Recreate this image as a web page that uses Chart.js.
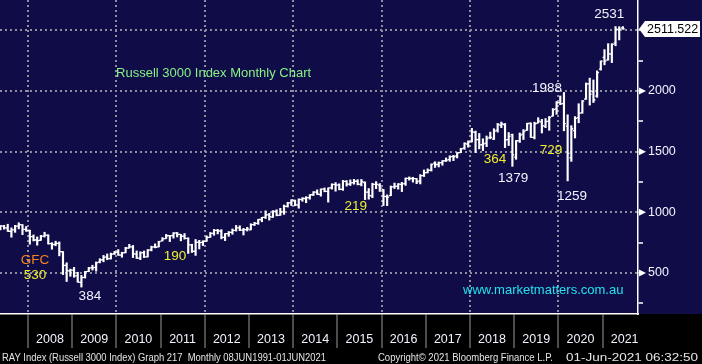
<!DOCTYPE html>
<html>
<head>
<meta charset="utf-8">
<script src="https://cdn.jsdelivr.net/npm/chart.js@4.4.1/dist/chart.umd.min.js"></script>
<style>
  html, body { margin: 0; padding: 0; background: #000; }
  #wrap { width: 702px; height: 364px; }
</style>
</head>
<body>
<div id="wrap"><canvas id="chart" width="702" height="364"></canvas></div>
<script>
// RAY Index monthly bars, first bar May 2007, last bar Jun 2021
const firstMonth = { year: 2007, month: 5 };

const opens = [
  860, 887, 872, 844, 855, 886, 897, 859,
  851, 800, 772, 770, 804, 812, 742, 735, 744, 675, 562, 515,
  524, 477, 422, 464, 513, 545, 546, 589, 609, 630, 618, 659,
  673, 647, 667, 706, 716, 656, 622, 668, 633, 690, 715, 715,
  765, 784, 808, 809, 830, 818, 804, 786, 731, 679, 754, 753,
  761, 794, 826, 852, 846, 793, 824, 834, 851, 872, 854, 857,
  856, 899, 909, 941, 959, 979, 961, 1009, 977, 1004, 1050, 1078,
  1098, 1060, 1105, 1114, 1121, 1145, 1167, 1148, 1192, 1173, 1201, 1229,
  1227, 1190, 1255, 1232, 1244, 1256, 1232, 1246, 1166, 1136, 1231, 1224,
  1188, 1129, 1137, 1209, 1216, 1231, 1237, 1280, 1279, 1277, 1260, 1303,
  1328, 1348, 1405, 1394, 1409, 1425, 1434, 1461, 1465, 1492, 1529, 1561,
  1580, 1659, 1599, 1557, 1570, 1617, 1604, 1676, 1717, 1724, 1600, 1640,
  1455, 1589, 1645, 1675, 1736, 1617, 1736, 1746, 1708, 1751, 1793, 1852,
  1904, 1896, 1710, 1449, 1673, 1780, 1820, 1934, 2059, 1994, 1958, 2180,
  2277, 2257, 2305, 2395, 2503, 2520
];
const highs = [
  890, 893, 902, 872, 893, 914, 899, 883,
  853, 814, 797, 810, 836, 815, 750, 762, 756, 677, 584, 532,
  546, 506, 481, 513, 547, 564, 591, 618, 645, 657, 664, 678,
  693, 671, 712, 736, 727, 682, 675, 681, 693, 721, 740, 762,
  792, 818, 810, 833, 834, 818, 825, 790, 737, 776, 769, 766,
  806, 834, 859, 860, 857, 825, 842, 863, 892, 889, 868, 876,
  906, 918, 942, 959, 1012, 992, 1014, 1021, 1033, 1060, 1083, 1104,
  1101, 1111, 1121, 1129, 1145, 1171, 1185, 1193, 1201, 1201, 1235, 1245,
  1235, 1263, 1262, 1267, 1272, 1269, 1271, 1251, 1196, 1240, 1253, 1237,
  1188, 1144, 1217, 1241, 1237, 1247, 1283, 1292, 1289, 1278, 1311, 1349,
  1358, 1399, 1417, 1415, 1427, 1448, 1466, 1470, 1491, 1528, 1573, 1589,
  1692, 1670, 1650, 1606, 1629, 1661, 1689, 1733, 1744, 1732, 1658, 1645,
  1592, 1654, 1682, 1734, 1737, 1743, 1780, 1766, 1773, 1790, 1855, 1913,
  1959, 1988, 1804, 1714, 1789, 1895, 1922, 2066, 2106, 2091, 2166, 2248,
  2341, 2390, 2390, 2531, 2530, 2531
];
const lows = [
  856, 861, 843, 795, 835, 864, 816, 843,
  737, 764, 729, 769, 796, 738, 696, 724, 641, 487, 430, 473,
  465, 424, 384, 458, 510, 524, 515, 583, 592, 609, 615, 652,
  646, 630, 667, 705, 627, 620, 610, 627, 632, 682, 707, 715,
  764, 784, 759, 787, 797, 765, 779, 661, 669, 645, 698, 726,
  761, 794, 811, 822, 781, 767, 802, 819, 845, 849, 813, 846,
  856, 891, 901, 922, 949, 936, 958, 971, 975, 983, 1043, 1056,
  1054, 1034, 1091, 1079, 1108, 1139, 1148, 1133, 1169, 1084, 1191, 1174,
  1185, 1181, 1216, 1221, 1232, 1226, 1218, 1105, 1108, 1121, 1195, 1172,
  1056, 1055, 1137, 1196, 1191, 1171, 1222, 1265, 1249, 1236, 1234, 1295,
  1325, 1340, 1370, 1374, 1388, 1419, 1420, 1426, 1448, 1492, 1519, 1537,
  1580, 1492, 1523, 1509, 1541, 1606, 1600, 1661, 1698, 1533, 1550, 1379,
  1437, 1576, 1600, 1675, 1617, 1605, 1736, 1654, 1698, 1676, 1793, 1808,
  1887, 1672, 1259, 1420, 1613, 1738, 1817, 1931, 1884, 1905, 1948, 2172,
  2216, 2254, 2234, 2373, 2421, 2509
];
const closes = [
  888, 872, 844, 855, 886, 898, 859, 851,
  800, 772, 767, 804, 812, 742, 735, 744, 676, 562, 520, 524,
  477, 425, 461, 511, 540, 542, 585, 607, 631, 618, 654, 669,
  648, 666, 705, 716, 657, 622, 665, 633, 688, 713, 712, 759,
  782, 807, 806, 829, 818, 803, 786, 731, 679, 752, 751, 760,
  794, 826, 852, 846, 793, 824, 834, 851, 872, 854, 857, 863,
  899, 909, 941, 959, 979, 964, 1007, 975, 1004, 1049, 1078, 1103,
  1061, 1106, 1114, 1121, 1145, 1166, 1149, 1192, 1173, 1201, 1230, 1225,
  1189, 1255, 1233, 1243, 1256, 1230, 1254, 1167, 1137, 1231, 1231, 1202,
  1131, 1126, 1209, 1214, 1233, 1234, 1280, 1279, 1277, 1252, 1302, 1326,
  1345, 1395, 1394, 1407, 1423, 1430, 1457, 1458, 1491, 1524, 1568, 1578,
  1663, 1599, 1556, 1565, 1607, 1617, 1670, 1724, 1728, 1597, 1626, 1473,
  1590, 1637, 1666, 1732, 1618, 1730, 1752, 1715, 1747, 1783, 1847, 1903,
  1894, 1731, 1486, 1689, 1775, 1817, 1917, 2058, 1974, 1926, 2152, 2246,
  2247, 2306, 2384, 2509, 2510, 2511.5
];

const years = ['2008', '2009', '2010', '2011', '2012', '2013', '2014',
               '2015', '2016', '2017', '2018', '2019', '2020', '2021'];
const yTickValues = [250, 500, 750, 1000, 1250, 1500, 1750, 2000, 2250, 2500];
const yLabelValues = [500, 1000, 1500, 2000];
const lastPrice = '2511.522';

// text notes: x in months from Jan 2008, y in index points
const notes = [
  { text: 'GFC', x: 1.9, y: 607, color: '#f5841f' },
  { text: '530', x: 1.9, y: 484, color: '#eeee30' },
  { text: '384', x: 16.8, y: 310, color: '#f2f4ff' },
  { text: '190', x: 39.9, y: 640, color: '#eeee30' },
  { text: '219', x: 89.0, y: 1052, color: '#eeee30' },
  { text: '364', x: 126.8, y: 1440, color: '#eeee30' },
  { text: '1379', x: 131.7, y: 1283, color: '#f2f4ff' },
  { text: '729', x: 142.0, y: 1513, color: '#eeee30' },
  { text: '1988', x: 140.9, y: 2025, color: '#f2f4ff' },
  { text: '1259', x: 147.7, y: 1135, color: '#f2f4ff' },
  { text: '2531', x: 157.8, y: 2635, color: '#f2f4ff' }
];
const title = { text: 'Russell 3000 Index Monthly Chart', x: 23.9, y: 2148, color: '#86f286' };
const site = { text: 'www.marketmatters.com.au', x: 118.1, y: 360, color: '#22e2ee' };
// footer pieces: text, left edge, width in the reference
const footer = [
  { text: 'RAY Index (Russell 3000 Index) Graph 217  Monthly 08JUN1991-01JUN2021', left: 2, width: 324 },
  { text: 'Copyright\u00a9 2021 Bloomberg Finance L.P.', left: 378, width: 175 },
  { text: '01-Jun-2021 06:32:50', left: 566, width: 132 }
];

const NAVY = '#100c47';
const GRID = '#8e8e9c';
const FONT = '"Liberation Sans", Arial, sans-serif';

let monthPos = function (i) {
  return (firstMonth.year - 2008) * 12 + (firstMonth.month - 1) + i + 0.5;
};

let barData = highs.map(function (h, i) {
  return { x: monthPos(i), y: [lows[i], h] };
});

let background = {
  id: 'background',
  beforeDraw: function (chart) {
    let ctx = chart.ctx;
    ctx.save();
    ctx.fillStyle = '#000';
    ctx.fillRect(0, 0, chart.width, chart.height);
    ctx.fillStyle = NAVY;
    ctx.fillRect(0, 0, chart.width, chart.chartArea.bottom);
    ctx.restore();
  }
};

// open / close ticks on each bar
let ohlcTicks = {
  id: 'ohlcTicks',
  afterDatasetsDraw: function (chart) {
    let ctx = chart.ctx, xs = chart.scales.x, ys = chart.scales.y, a = chart.chartArea;
    ctx.save();
    ctx.beginPath();
    ctx.rect(a.left, a.top, a.right - a.left, a.bottom - a.top);
    ctx.clip();
    ctx.strokeStyle = '#ffffff';
    ctx.lineWidth = 1.3;
    ctx.beginPath();
    for (let i = 0; i < closes.length; i++) {
      let x = xs.getPixelForValue(monthPos(i));
      let yo = ys.getPixelForValue(opens[i]);
      let yc = ys.getPixelForValue(closes[i]);
      ctx.moveTo(x - 1.9, yo);
      ctx.lineTo(x, yo);
      ctx.moveTo(x, yc);
      ctx.lineTo(x + 1.9, yc);
    }
    ctx.stroke();
    ctx.restore();
  }
};

let overlays = {
  id: 'overlays',
  afterDraw: function (chart) {
    let ctx = chart.ctx, xs = chart.scales.x, ys = chart.scales.y, a = chart.chartArea;
    ctx.save();

    // arrow markers on the labelled y ticks
    ctx.fillStyle = '#ffffff';
    yLabelValues.forEach(function (v) {
      let y = ys.getPixelForValue(v);
      ctx.beginPath();
      ctx.moveTo(a.right + 1, y - 3.5);
      ctx.lineTo(a.right + 8, y);
      ctx.lineTo(a.right + 1, y + 3.5);
      ctx.closePath();
      ctx.fill();
    });

    // last price box
    let py = ys.getPixelForValue(closes[closes.length - 1]);
    ctx.fillStyle = '#ffffff';
    ctx.beginPath();
    ctx.moveTo(a.right + 1, py);
    ctx.lineTo(a.right + 7, py - 8);
    ctx.lineTo(700, py - 8);
    ctx.lineTo(700, py + 8);
    ctx.lineTo(a.right + 7, py + 8);
    ctx.closePath();
    ctx.fill();
    ctx.fillStyle = '#000000';
    ctx.font = '12.5px ' + FONT;
    ctx.textAlign = 'left';
    ctx.textBaseline = 'middle';
    ctx.fillText(lastPrice, a.right + 9, py + 1);

    // notes
    ctx.font = '13.5px ' + FONT;
    ctx.textAlign = 'center';
    notes.forEach(function (n) {
      ctx.fillStyle = n.color;
      ctx.fillText(n.text, xs.getPixelForValue(n.x), ys.getPixelForValue(n.y));
    });
    ctx.font = '13px ' + FONT;
    ctx.textAlign = 'left';
    ctx.fillStyle = title.color;
    ctx.fillText(title.text, xs.getPixelForValue(title.x), ys.getPixelForValue(title.y));
    ctx.fillStyle = site.color;
    ctx.fillText(site.text, xs.getPixelForValue(site.x), ys.getPixelForValue(site.y));

    // footer line, squeezed to the reference widths
    ctx.font = '10.5px ' + FONT;
    ctx.fillStyle = '#e4e4e4';
    ctx.textBaseline = 'alphabetic';
    footer.forEach(function (f) {
      let w = ctx.measureText(f.text).width;
      ctx.save();
      ctx.translate(f.left, 361);
      ctx.scale(f.width / w, 1);
      ctx.fillText(f.text, 0, 0);
      ctx.restore();
    });
    ctx.restore();
  }
};

let ctx = document.getElementById('chart').getContext('2d');
let chart = new Chart(ctx, {
  type: 'bar',
  data: {
    datasets: [{
      data: barData,
      backgroundColor: '#ffffff',
      borderWidth: 0,
      barThickness: 1.5,
      grouped: false
    }]
  },
  options: {
    responsive: false,
    animation: false,
    events: [],
    layout: { padding: 0 },
    plugins: {
      legend: { display: false },
      tooltip: { enabled: false }
    },
    scales: {
      x: {
        type: 'linear',
        position: 'bottom',
        offset: false,
        min: -7.6,
        max: 165.6,
        afterBuildTicks: function (scale) {
          scale.ticks = years.map(function (y, i) { return { value: i * 12 }; });
        },
        afterFit: function (scale) {
          scale.height = 50;
          scale.paddingLeft = 0;
          scale.paddingRight = 0;
        },
        grid: {
          offset: false,
          color: function (c) {
            return c.tick && c.tick.value % 24 === 0 ? GRID : 'rgba(0,0,0,0)';
          },
          lineWidth: 2,
          tickColor: '#9a9a9a',
          tickWidth: 1,
          tickLength: 34,
          tickBorderDash: []
        },
        border: { display: true, color: '#ffffff', width: 1.5, dash: [2, 3] },
        ticks: {
          autoSkip: false,
          maxRotation: 0,
          labelOffset: 22,
          padding: -16,
          color: '#f2f2ff',
          font: { family: FONT, size: 12.5 },
          callback: function (value) { return years[Math.round(value / 12)]; }
        }
      },
      y: {
        type: 'linear',
        position: 'right',
        min: 162,
        max: 2750,
        afterBuildTicks: function (scale) {
          scale.ticks = yTickValues.map(function (v) { return { value: v }; });
        },
        afterFit: function (scale) {
          scale.width = 64;
          scale.paddingTop = 0;
          scale.paddingBottom = 0;
        },
        grid: {
          color: function (c) {
            return c.tick && c.tick.value % 500 === 0 ? GRID : 'rgba(0,0,0,0)';
          },
          lineWidth: 2,
          tickColor: '#ffffff',
          tickWidth: 1.5,
          tickLength: 5,
          tickBorderDash: []
        },
        border: { display: true, color: '#ffffff', width: 1.5, dash: [2, 3] },
        ticks: {
          padding: 5,
          color: '#f2f4ff',
          font: { family: FONT, size: 12.5 },
          callback: function (value) {
            return yLabelValues.indexOf(value) >= 0 ? String(value) : '';
          }
        }
      }
    }
  },
  plugins: [background, ohlcTicks, overlays]
});
</script>
</body>
</html>
